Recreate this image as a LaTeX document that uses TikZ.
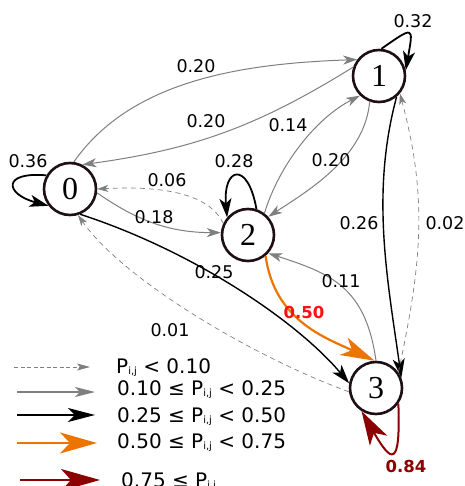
\documentclass[tikz,border=0pt]{standalone}
\usepackage{fontspec}
\setmainfont{DejaVu Sans}
\newfontfamily\numfont{Liberation Serif}
\usetikzlibrary{arrows.meta}
\definecolor{eg}{HTML}{7F7F7F}
\definecolor{eorange}{HTML}{EC7400}
\definecolor{edred}{HTML}{8B0000}
\definecolor{ered}{HTML}{FF1010}
\definecolor{ncol}{HTML}{1E0E16}
\newcommand{\ijsub}{\raisebox{-1.2pt}{\fontsize{10}{10}\selectfont i,j}}
\begin{document}
\begin{tikzpicture}[x=1pt,y=1pt,
 state/.style={circle,draw=ncol,line width=2.6pt,fill=white,minimum size=52pt,inner sep=0pt,font=\numfont\fontsize{32}{32}\selectfont},
 lbl/.style={font=\fontsize{17.5}{20}\selectfont,inner sep=0pt},
 leg/.style={font=\fontsize{20}{24}\selectfont,inner sep=0pt,anchor=base west},
 pvlow/.style={draw=eg,line width=0.7pt,dash pattern=on 5pt off 4pt,-{Stealth[length=11pt,width=7pt,inset=3pt]}},
 plow/.style={draw=eg,line width=1pt,-{Stealth[length=14pt,width=9pt,inset=4pt]}},
 pmid/.style={draw=black,line width=1.4pt,-{Stealth[length=19pt,width=12pt,inset=5pt]}},
 ploop/.style={pmid,line width=1.8pt},
 phigh/.style={draw=eorange,line width=2.2pt,-{Stealth[length=34pt,width=19pt,inset=9pt]}},
 pvhigh/.style={draw=edred,line width=2pt,-{Stealth[length=34pt,width=20pt,inset=9pt]}},
]
\useasboundingbox (0,0) rectangle (464,-486);

\node[state] (n0) at (70,-189) {0};
\node[state] (n1) at (379,-76) {1};
\node[state] (n2) at (248,-235) {2};
\node[state] (n3) at (376,-388) {3};

% edges
\draw[plow] (n0.82) .. controls +(55:100) and +(182:115) .. (n1.143);
\draw[plow] (n1.161) to[bend left=12] (n0.63);
\draw[plow] (n2.53) .. controls +(73:50) and +(207:50) .. (n1.226);
\draw[plow] (n1.250) .. controls +(265:55) and +(33:50) .. (n2.42);
\draw[pvlow] (n2.155) .. controls +(115:35) and +(3:60) .. (n0.0);
\draw[plow] (n0.-8) .. controls +(-35:50) and +(180:50) .. (n2.175);
\draw[pmid] (n0.-68) .. controls +(-18:120) and +(130:80) .. (n3.170);
\draw[pvlow] (n3.188) .. controls +(160:100) and +(-55:80) .. (n0.-73);
\draw[pmid] (n1.-50) .. controls +(255:100) and +(98:100) .. (n3.22);
\draw[pvlow] (n3.35) .. controls +(78:110) and +(-75:110) .. (n1.-40);
\draw[phigh] (n2.-50) .. controls +(-82:65) and +(155:55) .. (n3.93);
\draw[plow] (n3.90) .. controls +(98:75) and +(-18:65) .. (n2.-42);

% self loops
\draw[ploop] (n0.150) .. controls +(175:45) and +(165:45) .. (n0.218);
\draw[ploop] (n1.85) .. controls +(35:40) and +(80:45) .. (n1.12);
\draw[ploop] (n2.72) .. controls +(100:50) and +(95:50) .. (n2.140);
\draw[pvhigh] (n3.-35) .. controls +(-88:65) and +(-60:60) .. (n3.238);

% labels
\node[lbl] (l01) at (196,-66) {0.20};
\node[lbl] (l10) at (206,-121) {0.20};
\node[lbl] (l21) at (288,-125) {0.14};
\node[lbl] (l12) at (331,-160) {0.20};
\node[lbl] (l00) at (28,-161) {0.36};
\node[lbl] (l11) at (413,-21) {0.32};
\node[lbl] (l22) at (234,-161) {0.28};
\node[lbl] (l20) at (167,-180) {0.06};
\node[lbl] (l02) at (154,-217) {0.18};
\node[lbl] (l13) at (359,-223) {0.26};
\node[lbl] (l31) at (445,-223) {0.02};
\node[lbl] (l03) at (214,-272) {0.25};
\node[lbl] (l32) at (341,-281) {0.11};
\node[lbl,text=ered,font=\bfseries\fontsize{16.5}{20}\selectfont] (l23) at (304,-312) {0.50};
\node[lbl] (l30) at (170,-330) {0.01};
\node[lbl,text=edred,font=\bfseries\fontsize{16.5}{20}\selectfont] (l33) at (406,-466) {0.84};

% legend
\coordinate (a1) at (14,-367); \coordinate (b1) at (90,-367);
\coordinate (a2) at (17,-392); \coordinate (b2) at (95,-392);
\coordinate (a3) at (17,-415); \coordinate (b3) at (95,-415);
\coordinate (a4) at (17,-443); \coordinate (b4) at (97,-443);
\coordinate (a5) at (20,-480); \coordinate (b5) at (100,-480);
\draw[pvlow,dash pattern=on 4pt off 2.5pt,-{Stealth[length=13pt,width=7pt,inset=3pt]}] (a1) -- (b1);
\draw[plow,line width=1.2pt,-{Stealth[length=20pt,width=10pt,inset=5pt]}] (a2) -- (b2);
\draw[pmid,-{Stealth[length=27pt,width=14pt,inset=7pt]}] (a3) -- (b3);
\draw[phigh,line width=2pt,-{Stealth[length=37pt,width=21pt,inset=10pt]}] (a4) -- (b4);
\draw[pvhigh,line width=2.6pt,-{Stealth[length=39pt,width=22pt,inset=10pt]}] (a5) -- (b5);

\node[leg] (t1) at (116,-373) {P\ijsub{} < 0.10};
\node[leg] (t2) at (117,-395) {0.10 ≤ P\ijsub{} < 0.25};
\node[leg] (t3) at (117,-422) {0.25 ≤ P\ijsub{} < 0.50};
\node[leg] (t4) at (117,-448) {0.50 ≤ P\ijsub{} < 0.75};
\node[leg] (t5) at (121,-487) {0.75 ≤ P\ijsub{}};
\end{tikzpicture}
\end{document}
